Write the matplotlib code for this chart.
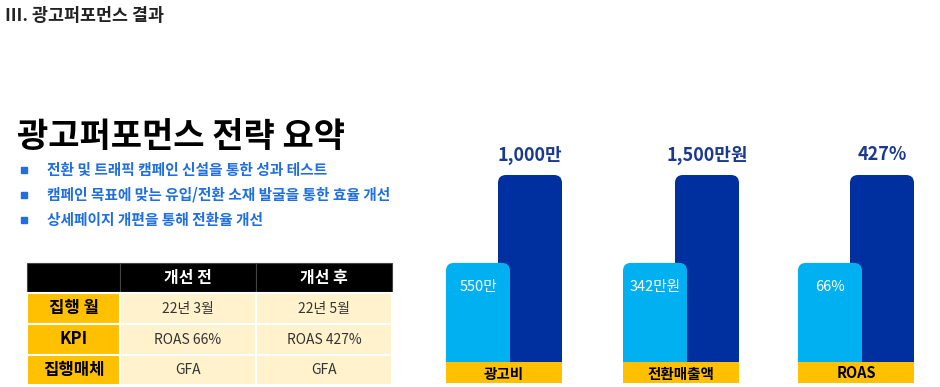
import matplotlib.pyplot as plt
from matplotlib.patches import Rectangle, FancyBboxPatch

plt.rcParams['font.family'] = ['Noto Sans CJK KR', 'DejaVu Sans']

# ---- data ----
page_title = "Ⅲ. 광고퍼포먼스 결과"
headline = "광고퍼포먼스 전략 요약"
bullets = [
    "전환 및 트래픽 캠페인 신설을 통한 성과 테스트",
    "캠페인 목표에 맞는 유입/전환 소재 발굴을 통한 효율 개선",
    "상세페이지 개편을 통해 전환율 개선",
]

col_headers = ["", "개선 전", "개선 후"]
row_labels = ["집행 월", "KPI", "집행매체"]
before_vals = ["22년 3월", "ROAS 66%", "GFA"]
after_vals = ["22년 5월", "ROAS 427%", "GFA"]

metrics = ["광고비", "전환매출액", "ROAS"]
before_labels = ["550만", "342만원", "66%"]
after_labels = ["1,000만", "1,500만원", "427%"]
# bars in the original are schematic: same heights in every group
before_height = [0.53, 0.53, 0.53]
after_height = [1.0, 1.0, 1.0]

# ---- colours ----
light_blue = "#00b0f0"
dark_blue = "#0030a0"
gold = "#ffc000"
cream = "#fff2cc"
bullet_blue = "#1f6fe0"

fig = plt.figure(figsize=(9.4, 3.87), dpi=100)
ax = fig.add_axes([0, 0, 1, 1])
ax.set_xlim(0, 940)
ax.set_ylim(387, 0)
ax.axis("off")

# titles
ax.text(5, 16, page_title, fontsize=12.5, fontweight="bold", color="#222222",
        va="center", ha="left")
ax.text(17, 136, headline, fontsize=24.5, fontweight="bold", color="black",
        va="center", ha="left")

for i, b in enumerate(bullets):
    y = 170 + i * 25
    ax.add_patch(Rectangle((21, y - 3), 6, 6, color=bullet_blue))
    ax.text(47, y, b, fontsize=10.6, fontweight="bold", color=bullet_blue,
            va="center", ha="left")

# table
col_x = [27, 120, 256, 392]
row_y = [263, 293, 324, 355, 385]
for c in range(3):
    ax.add_patch(Rectangle((col_x[c], row_y[0]), col_x[c + 1] - col_x[c],
                           row_y[1] - row_y[0], facecolor="black",
                           edgecolor="#444444", lw=0.8))
    ax.text((col_x[c] + col_x[c + 1]) / 2, (row_y[0] + row_y[1]) / 2,
            col_headers[c], color="white", fontsize=11.5, fontweight="bold",
            ha="center", va="center")

for r in range(3):
    cells = [row_labels[r], before_vals[r], after_vals[r]]
    for c in range(3):
        fc = gold if c == 0 else cream
        ax.add_patch(Rectangle((col_x[c], row_y[r + 1]), col_x[c + 1] - col_x[c],
                               row_y[r + 2] - row_y[r + 1], facecolor=fc,
                               edgecolor="white", lw=1.5))
        if c == 0:
            ax.text((col_x[c] + col_x[c + 1]) / 2, (row_y[r + 1] + row_y[r + 2]) / 2,
                    cells[c], color="black", fontsize=12, fontweight="bold",
                    ha="center", va="center")
        else:
            ax.text((col_x[c] + col_x[c + 1]) / 2, (row_y[r + 1] + row_y[r + 2]) / 2,
                    cells[c], color="#333333", fontsize=10,
                    ha="center", va="center")

# bar groups
group_left = [446, 623, 798]
bar_w = 64
overlap = 12
base_y = 362
band_h = 21
full_h = 187

for g, name in enumerate(metrics):
    x0 = group_left[g]
    x1 = x0 + bar_w - overlap
    # after bar (behind)
    h_after = after_height[g] * full_h
    ax.add_patch(FancyBboxPatch((x1, base_y - h_after), bar_w, h_after + band_h,
                                boxstyle="round,pad=0,rounding_size=8",
                                facecolor=dark_blue, edgecolor="none"))
    # before bar (front)
    h_before = before_height[g] * full_h
    ax.add_patch(FancyBboxPatch((x0, base_y - h_before), bar_w, h_before + band_h,
                                boxstyle="round,pad=0,rounding_size=8",
                                facecolor=light_blue, edgecolor="none"))
    # label band
    band_w = x1 + bar_w - x0
    ax.add_patch(Rectangle((x0, base_y), band_w, band_h, facecolor=gold,
                           edgecolor="none"))
    ax.text(x0 + band_w / 2, base_y + band_h / 2 + 1, name, fontsize=10.5,
            fontweight="bold", color="black", ha="center", va="center")
    # value labels
    ax.text(x1 + bar_w / 2, base_y - h_after - 20, after_labels[g],
            fontsize=13, fontweight="bold", color="#1a3a8f",
            ha="center", va="center")
    ax.text(x0 + bar_w / 2, base_y - h_before + 24, before_labels[g],
            fontsize=10.5, color="white", ha="center", va="center")

fig.savefig("out.png", dpi=100)
